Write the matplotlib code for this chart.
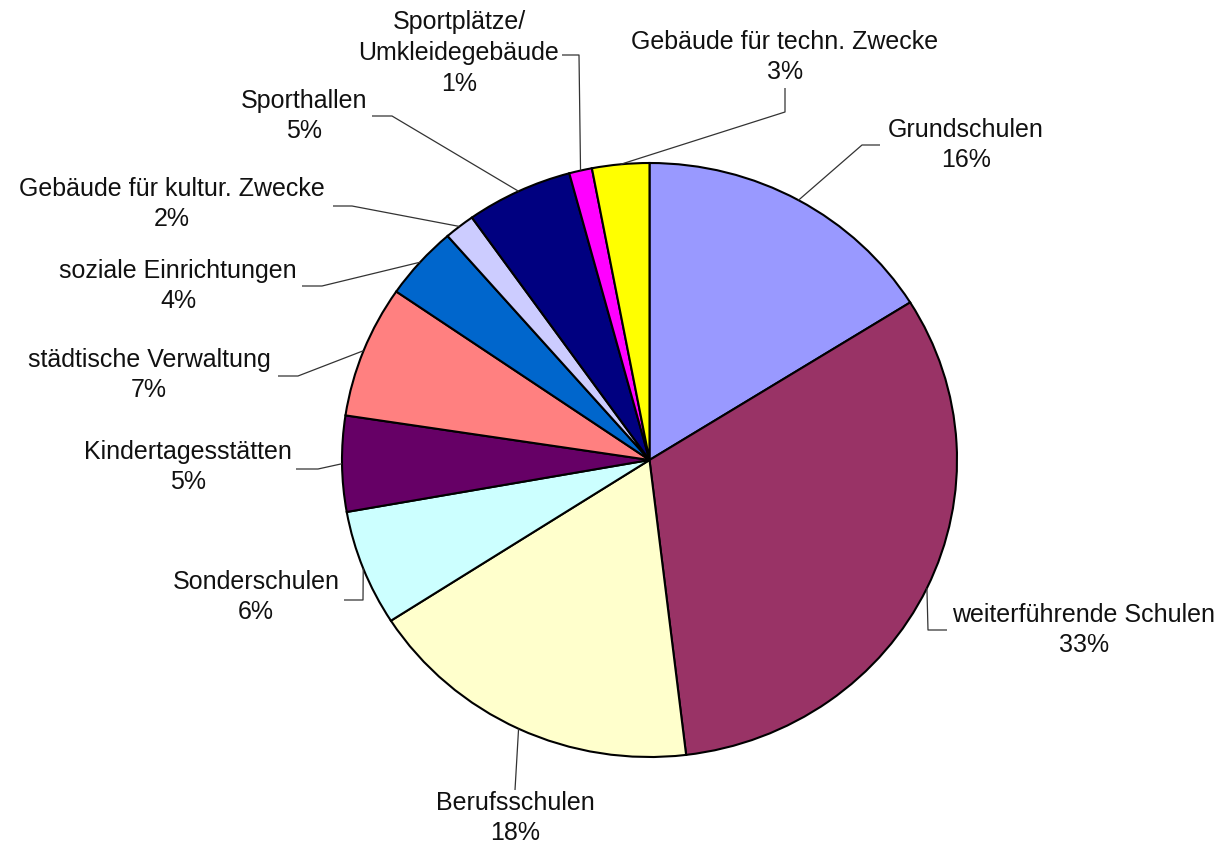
import numpy as np
import matplotlib
matplotlib.use("Agg")
import matplotlib.pyplot as plt

# slices, clockwise from 12 o'clock
labels = ["Grundschulen", "weiterführende Schulen", "Berufsschulen", "Sonderschulen",
          "Kindertagesstätten", "städtische Verwaltung", "soziale Einrichtungen",
          "Gebäude für kultur. Zwecke", "Sporthallen", "Sportplätze/\nUmkleidegebäude",
          "Gebäude für techn. Zwecke"]
shares = [16.1, 32.0, 17.8, 6.3, 5.2, 7.2, 4.0, 1.6, 5.6, 1.2, 3.0]
pct_text = [16, 33, 18, 6, 5, 7, 4, 2, 5, 1, 3]
colors = ["#9999FF", "#993366", "#FFFFCC", "#CCFFFF", "#660066", "#FF8080",
          "#0066CC", "#CCCCFF", "#000080", "#FF00FF", "#FFFF00"]

# label layout in image pixels: text centre, elbow, end of leader
text_pos = [(966, 145), (1084, 630), (515, 818), (256, 597), (188, 467), (149, 375),
            (178, 286), (172, 204), (304, 116), (459, 53), (785, 57)]
elbows = [(862, 145), (928, 630), (515, 790), (363, 600), (318, 469), (298, 376),
          (322, 286), (352, 206), (392, 116), (579, 55), (785, 112)]
ends = [(880, 145), (947, 630), (515, 790), (344, 600), (296, 469), (278, 376),
        (302, 286), (333, 206), (372, 116), (562, 55), (785, 88)]

W, H = 1221, 844
plt.rcParams['font.family'] = ['Liberation Sans', 'DejaVu Sans']
fig = plt.figure(figsize=(W / 100, H / 100), dpi=100, facecolor='white')

# pie box (slightly wider than tall, as in the original)
left, right, top, bottom = 342, 957, 163, 757
ax = fig.add_axes([left / W, (H - bottom) / H, (right - left) / W, (bottom - top) / H])
wedges, _ = ax.pie(shares, colors=colors, startangle=90, counterclock=False, radius=1,
                   wedgeprops=dict(edgecolor='black', linewidth=1.5))
for w in wedges:
    w.set_clip_on(False)
ax.set_aspect('auto')
ax.set_xlim(-1, 1)
ax.set_ylim(-1, 1)
ax.axis('off')

ov = fig.add_axes([0, 0, 1, 1])
ov.set_xlim(0, W)
ov.set_ylim(H, 0)
ov.axis('off')

for i, w in enumerate(wedges):
    mid = np.deg2rad((w.theta1 + w.theta2) / 2)
    disp = ax.transData.transform((np.cos(mid), np.sin(mid)))
    ax_, ay_ = ov.transData.inverted().transform(disp)
    xs = [ax_, elbows[i][0], ends[i][0]]
    ys = [ay_, elbows[i][1], ends[i][1]]
    ov.plot(xs, ys, color='#333333', lw=0.9, solid_capstyle='butt')
    ov.text(text_pos[i][0], text_pos[i][1], "%s\n%d%%" % (labels[i], pct_text[i]),
            ha='center', va='center', fontsize=18, color='#111111', linespacing=1.35)

fig.savefig("out.png", dpi=100, facecolor='white')
